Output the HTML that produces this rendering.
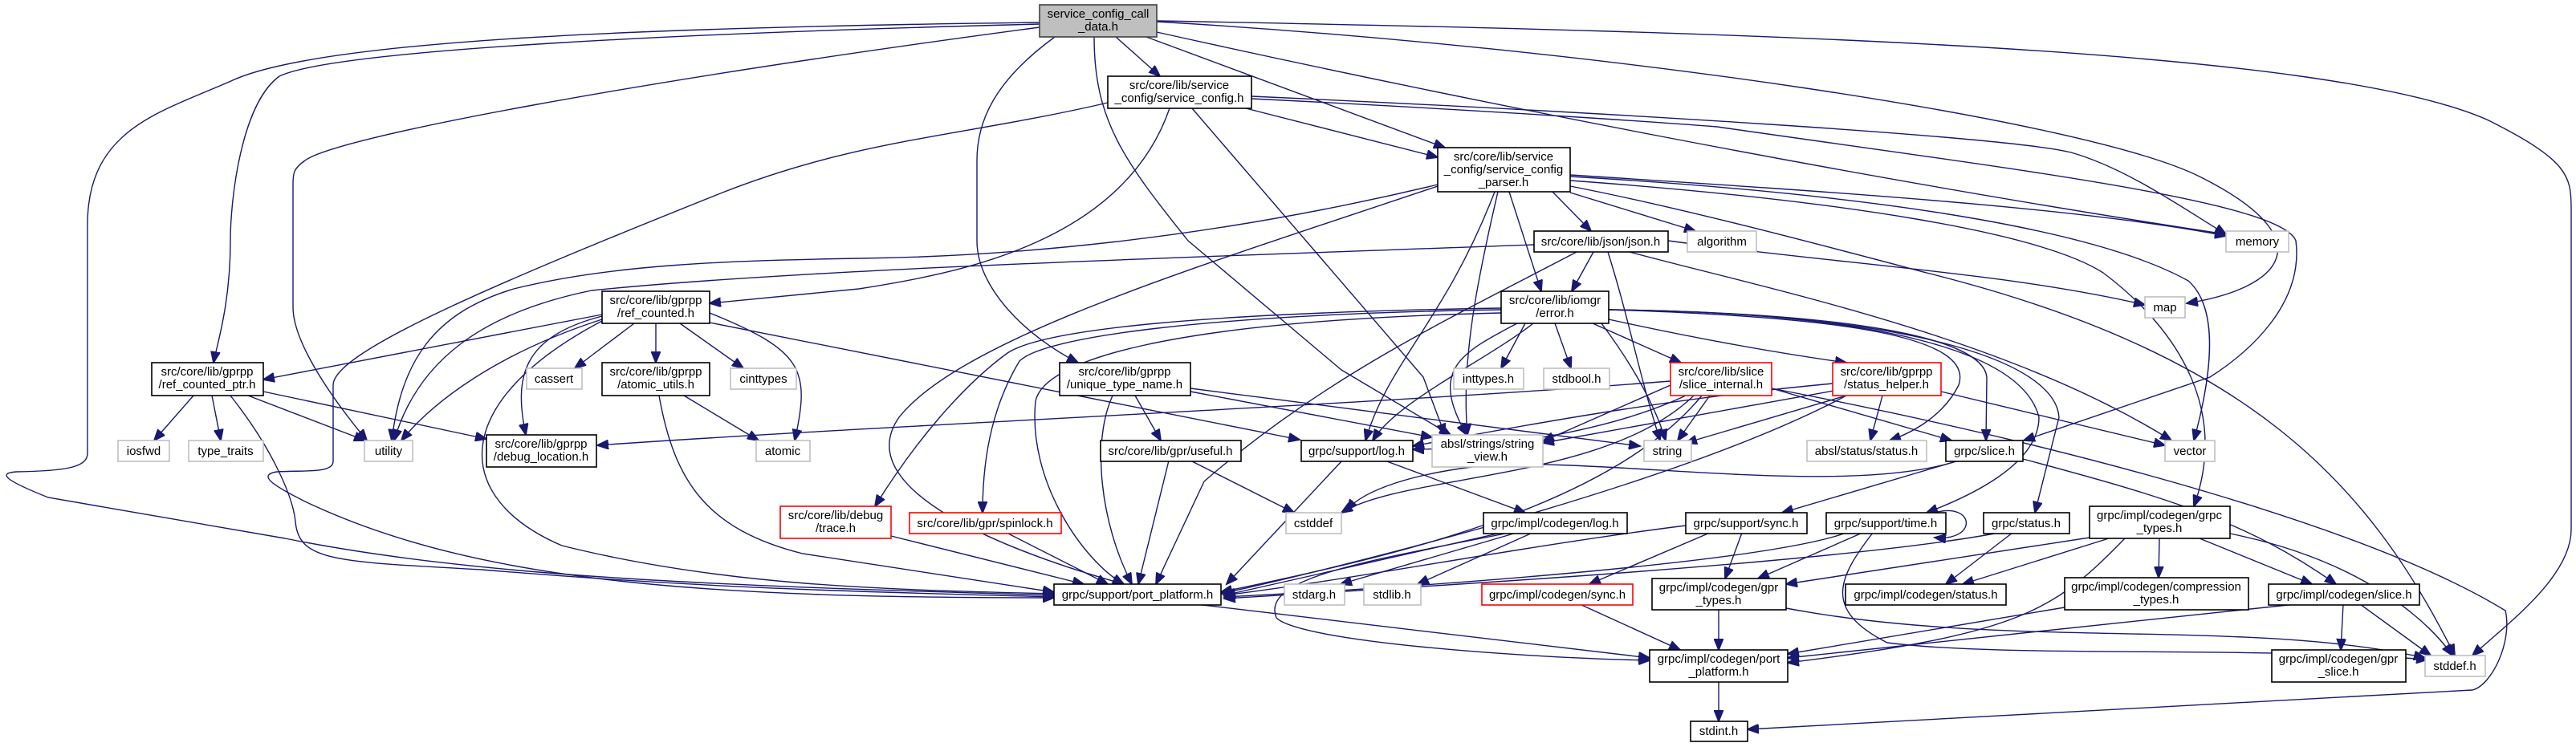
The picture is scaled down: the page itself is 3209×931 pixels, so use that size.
<!DOCTYPE html>
<html><head><meta charset="utf-8"><style>
html,body{margin:0;padding:0;background:#fff;}
svg{display:block;}
text{font-family:"Liberation Sans",sans-serif;font-size:15px;fill:#000;text-anchor:middle;}
.e{fill:none;stroke:#191970;stroke-width:1.4;marker-end:url(#a);}
.n{fill:#fff;stroke:#000;stroke-width:1.6;}
.g{fill:#fff;stroke:#bfbfbf;stroke-width:1.6;}
.r{fill:#fff;stroke:#ff0000;stroke-width:1.6;}
</style></head><body>
<svg width="3209" height="931" viewBox="0 0 3209 931" xmlns="http://www.w3.org/2000/svg">
<defs><marker id="a" markerUnits="userSpaceOnUse" markerWidth="16" markerHeight="12" refX="14" refY="6" orient="auto"><path d="M0,0 L15,6 L0,12 z" fill="#191970" stroke="#191970"/></marker></defs>
<g>
<!-- root edges -->
<path class="e" d="M1390,46 L1445,95"/>
<path class="e" d="M1428,46 L1800,184"/>
<path class="e" d="M1295,30 C900,40 420,60 348,95 C300,130 287,250 287,300 C287,380 270,430 266,452"/>
<path class="e" d="M1295,28 C800,34 400,50 290,100 C200,140 109,160 109,280 L109,565 C109,583 80,587 20,588 C-5,590 10,600 60,620 L355,671 C600,720 900,730 1313,742"/>
<path class="e" d="M1295,34 C800,100 420,170 380,200 C366,210 365,215 365,230 L365,383 C365,420 400,480 457,549"/>
<path class="e" d="M1314,46 C1240,100 1217,150 1217,200 L1217,300 C1217,360 1280,420 1343,452"/>
<path class="e" d="M1363,46 C1363,150 1400,200 1480,300 L1671,461 L1807,542"/>
<path class="e" d="M1441,40 C1800,120 2300,220 2773,292"/>
<path class="e" d="M1441,27 C2000,60 2600,150 2740,220 C2900,300 2840,360 2724,378"/>
<path class="e" d="M1441,26 C2200,40 2900,60 3100,150 C3200,200 3203,220 3203,260 L3203,660 C3203,720 3120,780 3080,817"/>
<!-- service_config.h -->
<path class="e" d="M1552,135 L1791,196"/>
<path class="e" d="M1457,135 C1400,300 1200,340 1070,360 L884,378"/>
<path class="e" d="M1380,128 C1200,170 1070,173 900,240 C600,360 415,440 415,480 L415,575 C415,590 380,586 345,588 C320,592 340,605 380,625 C600,730 900,745 1313,745"/>
<path class="e" d="M1485,135 L1773,470 L1800,542"/>
<path class="e" d="M1559,120 C2000,140 2500,170 2580,190 C2650,210 2720,260 2773,292"/>
<path class="e" d="M1559,123 C1900,140 2100,155 2139,158 C2500,210 2840,250 2860,300 C2870,380 2800,440 2753,470 L2521,549"/>
<!-- parser -->
<path class="e" d="M1934,239 L1982,288"/>
<path class="e" d="M1880,239 L1920,363"/>
<path class="e" d="M1956,240 L2112,288"/>
<path class="e" d="M1956,218 C2300,240 2600,260 2773,294"/>
<path class="e" d="M1956,220 C2300,240 2600,280 2726,350 C2760,380 2760,450 2733,549"/>
<path class="e" d="M1956,225 C2300,250 2542,290 2620,340 C2700,400 2780,500 2733,631"/>
<path class="e" d="M1956,232 C2100,260 2275,307 2400,340 C2800,440 2950,600 3058,817"/>
<path class="e" d="M1791,230 C1500,300 1247,320 1070,322 C900,325 760,330 640,360 C540,390 500,450 488,549"/>
<path class="e" d="M1791,232 C1500,330 1200,420 1120,520 C1050,620 1300,700 1400,728"/>
<path class="e" d="M1862,239 C1800,400 1730,450 1701,549"/>
<path class="e" d="M1866,239 C1840,350 1820,450 1828,542"/>
<!-- json -->
<path class="e" d="M1985,314 L1958,363"/>
<path class="e" d="M2078,300 C2300,330 2500,340 2672,380"/>
<path class="e" d="M2030,314 C2200,360 2500,420 2705,549"/>
<path class="e" d="M2003,314 C2030,400 2040,460 2068,549"/>
<path class="e" d="M1911,305 C1500,320 1000,335 737,362 C600,390 520,450 491,549"/>
<path class="e" d="M1964,314 C1800,400 1650,470 1500,600 L1440,728"/>
<!-- error -->
<path class="e" d="M1900,403 L1870,459"/>
<path class="e" d="M1937,403 L1957,459"/>
<path class="e" d="M1984,403 L2094,452"/>
<path class="e" d="M2004,398 C2150,430 2250,445 2300,452"/>
<path class="e" d="M2004,386 C2300,395 2460,420 2440,480 C2420,520 2380,540 2354,549"/>
<path class="e" d="M2004,386 C2300,390 2470,420 2475,470 L2474,549"/>
<path class="e" d="M2004,386 C2350,390 2520,440 2540,520 C2540,580 2450,620 2400,639"/>
<path class="e" d="M2004,386 C2380,390 2560,450 2565,520 L2535,639"/>
<path class="e" d="M1870,384 C1500,390 1300,410 1255,440 C1200,480 1140,550 1090,631"/>
<path class="e" d="M1870,386 C1500,392 1300,420 1270,450 C1240,500 1224,560 1224,639"/>
<path class="e" d="M1870,390 C1450,400 1300,450 1290,500 C1280,600 1350,700 1400,728"/>
<path class="e" d="M1910,403 C1850,450 1740,500 1710,549"/>
<path class="e" d="M1890,403 C1820,440 1780,460 1827,542"/>
<path class="e" d="M1995,403 C2030,450 2060,500 2075,549"/>
<!-- ref_counted -->
<path class="e" d="M750,392 L328,473"/>
<path class="e" d="M790,403 L716,459"/>
<path class="e" d="M817,403 L817,452"/>
<path class="e" d="M847,403 L926,459"/>
<path class="e" d="M884,390 C1000,437 1010,460 990,549"/>
<path class="e" d="M750,394 C650,420 640,470 655,542"/>
<path class="e" d="M750,398 C620,440 540,500 500,549"/>
<path class="e" d="M750,400 C560,500 560,620 700,680 C900,730 1100,735 1313,740"/>
<path class="e" d="M884,402 L1619,548"/>
<!-- ref_counted_ptr -->
<path class="e" d="M241,493 L192,549"/>
<path class="e" d="M264,493 L275,549"/>
<path class="e" d="M309,493 L455,549"/>
<path class="e" d="M328,488 L606,547"/>
<path class="e" d="M287,493 C340,560 365,620 368,650 C372,700 420,700 600,710 C900,735 1100,738 1313,744"/>
<!-- atomic_utils -->
<path class="e" d="M852,493 L945,549"/>
<path class="e" d="M821,493 C840,600 880,660 1000,690 L1313,738"/>
<!-- long horizontal to debug_location -->
<path class="e" d="M2081,475 C1700,505 1100,530 744,555"/>
<!-- unique_type_name -->
<path class="e" d="M1414,493 L1446,549"/>
<path class="e" d="M1386,493 C1360,550 1370,650 1410,728"/>
<path class="e" d="M1483,488 L1784,545"/>
<path class="e" d="M1483,484 L2043,556"/>
<!-- slice_internal -->
<path class="e" d="M2207,484 L2431,549"/>
<path class="e" d="M2130,493 L2090,549"/>
<path class="e" d="M2081,480 L1922,550"/>
<path class="e" d="M2100,493 C2000,540 1850,560 1760,560"/>
<path class="e" d="M2110,493 C2000,600 1750,590 1671,639"/>
<path class="e" d="M2120,493 C2000,640 1700,700 1521,738"/>
<path class="e" d="M2207,484 C2600,560 2958,661 3121,761 C3130,800 3104,854 3080,860 L2177,909"/>
<!-- status_helper -->
<path class="e" d="M2345,493 L2330,549"/>
<path class="e" d="M2418,488 L2697,555"/>
<path class="e" d="M2300,493 L2100,552"/>
<path class="e" d="M2290,486 L1922,552"/>
<path class="e" d="M2283,478 C2100,495 1950,520 1760,556"/>
<path class="e" d="M2300,493 C2100,600 1700,700 1521,740"/>
<!-- row 549 -->
<path class="e" d="M1456,574 L1418,728"/>
<path class="e" d="M1483,574 L1612,639"/>
<path class="e" d="M1672,574 L1528,728"/>
<path class="e" d="M1725,574 L1900,639"/>
<path class="e" d="M2520,572 C2700,620 2800,650 2910,728"/>
<path class="e" d="M2440,574 L2220,639"/>
<path class="e" d="M2440,574 C2300,620 2000,570 1850,580 C1760,590 1700,610 1677,636"/>
<!-- row 639 -->
<path class="e" d="M1110,668 L1350,728"/>
<path class="e" d="M1254,664 L1380,728"/>
<path class="e" d="M1870,664 L1525,742"/>
<path class="e" d="M1889,664 L1670,728"/>
<path class="e" d="M1909,664 L1766,728"/>
<path class="e" d="M1880,664 C1700,700 1570,720 1590,770 C1620,800 1900,820 2055,823"/>
<path class="e" d="M2130,664 L1980,728"/>
<path class="e" d="M2170,664 L2149,721"/>
<path class="e" d="M2100,655 C1900,680 1700,720 1525,742"/>
<path class="e" d="M2320,664 L2190,721"/>
<path class="e" d="M2300,664 C2200,700 1800,730 1525,744"/>
<path class="e" d="M2333,664 C2290,720 2270,760 2351,801 C2500,820 2800,805 3024,822"/>
<path class="e" d="M2410,639 C2460,625 2465,675 2410,670"/>
<path class="e" d="M2507,664 L2424,728"/>
<path class="e" d="M2490,664 C2300,700 1800,730 1525,746"/>
<path class="e" d="M2603,670 L2225,728"/>
<path class="e" d="M2627,671 L2445,728"/>
<path class="e" d="M2690,671 L2689,720"/>
<path class="e" d="M2740,671 L2880,728"/>
<path class="e" d="M2778,665 C2950,700 3030,780 3055,817"/>
<path class="e" d="M2647,671 C2560,760 2520,790 2227,826"/>
<!-- row 728 -->
<path class="e" d="M1490,753 L2055,820"/>
<path class="e" d="M1968,753 L2093,810"/>
<path class="e" d="M2572,757 L2227,815"/>
<path class="e" d="M2860,753 L2227,820"/>
<path class="e" d="M2919,753 L2916,810"/>
<path class="e" d="M2940,753 L3028,817"/>
<path class="e" d="M2141,760 L2141,810"/>
<path class="e" d="M2225,758 C2500,810 2800,770 3021,820"/>
<path class="e" d="M2141,850 L2141,899"/>
</g>
<g>
<rect x="1295" y="6" width="146" height="40" fill="#bfbfbf" stroke="#404040" stroke-width="1.6"/><text x="1368" y="22">service_config_call</text><text x="1368" y="38">_data.h</text>
<rect class="n" x="1380" y="95" width="179" height="40"/><text x="1469" y="111">src/core/lib/service</text><text x="1469" y="127">_config/service_config.h</text>
<rect class="n" x="1791" y="184" width="165" height="55"/><text x="1873" y="200">src/core/lib/service</text><text x="1873" y="216">_config/service_config</text><text x="1873" y="232">_parser.h</text>
<rect class="n" x="1911" y="288" width="167" height="26"/><text x="1994" y="306">src/core/lib/json/json.h</text>
<rect class="g" x="2102" y="288" width="86" height="26"/><text x="2145" y="306">algorithm</text>
<rect class="g" x="2773" y="288" width="78" height="26"/><text x="2812" y="306">memory</text>
<rect class="g" x="2672" y="370" width="50" height="26"/><text x="2697" y="388">map</text>
<rect class="n" x="1870" y="363" width="134" height="40"/><text x="1937" y="379">src/core/lib/iomgr</text><text x="1937" y="395">/error.h</text>
<rect class="n" x="750" y="363" width="134" height="40"/><text x="817" y="379">src/core/lib/gprpp</text><text x="817" y="395">/ref_counted.h</text>
<rect class="n" x="189" y="452" width="139" height="41"/><text x="258" y="468">src/core/lib/gprpp</text><text x="258" y="484">/ref_counted_ptr.h</text>
<rect class="g" x="656" y="459" width="69" height="26"/><text x="690" y="477">cassert</text>
<rect class="n" x="750" y="452" width="134" height="41"/><text x="817" y="468">src/core/lib/gprpp</text><text x="817" y="484">/atomic_utils.h</text>
<rect class="g" x="910" y="459" width="82" height="26"/><text x="951" y="477">cinttypes</text>
<rect class="n" x="1320" y="452" width="163" height="41"/><text x="1401" y="468">src/core/lib/gprpp</text><text x="1401" y="484">/unique_type_name.h</text>
<rect class="g" x="1811" y="459" width="87" height="26"/><text x="1854" y="477">inttypes.h</text>
<rect class="g" x="1923" y="459" width="82" height="26"/><text x="1964" y="477">stdbool.h</text>
<rect class="r" x="2081" y="452" width="126" height="41"/><text x="2144" y="468">src/core/lib/slice</text><text x="2144" y="484">/slice_internal.h</text>
<rect class="r" x="2283" y="452" width="135" height="41"/><text x="2350" y="468">src/core/lib/gprpp</text><text x="2350" y="484">/status_helper.h</text>
<rect class="g" x="147" y="549" width="64" height="26"/><text x="179" y="567">iosfwd</text>
<rect class="g" x="235" y="549" width="93" height="26"/><text x="281" y="567">type_traits</text>
<rect class="g" x="454" y="549" width="60" height="26"/><text x="484" y="567">utility</text>
<rect class="n" x="606" y="542" width="137" height="40"/><text x="674" y="558">src/core/lib/gprpp</text><text x="674" y="574">/debug_location.h</text>
<rect class="g" x="942" y="549" width="67" height="26"/><text x="975" y="567">atomic</text>
<rect class="n" x="1371" y="549" width="175" height="26"/><text x="1458" y="567">src/core/lib/gpr/useful.h</text>
<rect class="n" x="1621" y="549" width="139" height="26"/><text x="1690" y="567">grpc/support/log.h</text>
<rect class="g" x="1784" y="542" width="138" height="40"/><text x="1853" y="558">absl/strings/string</text><text x="1853" y="574">_view.h</text>
<rect class="g" x="2048" y="549" width="59" height="26"/><text x="2077" y="567">string</text>
<rect class="g" x="2251" y="549" width="149" height="26"/><text x="2325" y="567">absl/status/status.h</text>
<rect class="n" x="2424" y="549" width="96" height="26"/><text x="2472" y="567">grpc/slice.h</text>
<rect class="g" x="2697" y="549" width="62" height="26"/><text x="2728" y="567">vector</text>
<rect class="r" x="972" y="631" width="138" height="40"/><text x="1041" y="647">src/core/lib/debug</text><text x="1041" y="663">/trace.h</text>
<rect class="r" x="1133" y="639" width="189" height="26"/><text x="1227" y="657">src/core/lib/gpr/spinlock.h</text>
<rect class="g" x="1602" y="639" width="69" height="26"/><text x="1636" y="657">cstddef</text>
<rect class="n" x="1848" y="639" width="179" height="26"/><text x="1937" y="657">grpc/impl/codegen/log.h</text>
<rect class="n" x="2100" y="639" width="151" height="26"/><text x="2175" y="657">grpc/support/sync.h</text>
<rect class="n" x="2275" y="639" width="149" height="26"/><text x="2349" y="657">grpc/support/time.h</text>
<rect class="n" x="2471" y="639" width="107" height="26"/><text x="2524" y="657">grpc/status.h</text>
<rect class="n" x="2603" y="631" width="175" height="40"/><text x="2690" y="647">grpc/impl/codegen/grpc</text><text x="2690" y="663">_types.h</text>
<rect class="n" x="1313" y="728" width="208" height="26"/><text x="1417" y="746">grpc/support/port_platform.h</text>
<rect class="g" x="1600" y="728" width="75" height="26"/><text x="1637" y="746">stdarg.h</text>
<rect class="g" x="1699" y="728" width="71" height="26"/><text x="1734" y="746">stdlib.h</text>
<rect class="r" x="1846" y="728" width="188" height="26"/><text x="1940" y="746">grpc/impl/codegen/sync.h</text>
<rect class="n" x="2058" y="721" width="167" height="39"/><text x="2141" y="737">grpc/impl/codegen/gpr</text><text x="2141" y="753">_types.h</text>
<rect class="n" x="2299" y="728" width="200" height="26"/><text x="2399" y="746">grpc/impl/codegen/status.h</text>
<rect class="n" x="2572" y="720" width="229" height="40"/><text x="2686" y="736">grpc/impl/codegen/compression</text><text x="2686" y="752">_types.h</text>
<rect class="n" x="2826" y="728" width="188" height="26"/><text x="2920" y="746">grpc/impl/codegen/slice.h</text>
<rect class="n" x="2055" y="810" width="172" height="40"/><text x="2141" y="826">grpc/impl/codegen/port</text><text x="2141" y="842">_platform.h</text>
<rect class="n" x="2830" y="810" width="167" height="40"/><text x="2913" y="826">grpc/impl/codegen/gpr</text><text x="2913" y="842">_slice.h</text>
<rect class="g" x="3021" y="817" width="75" height="26"/><text x="3058" y="835">stddef.h</text>
<rect class="n" x="2106" y="899" width="71" height="25"/><text x="2141" y="916">stdint.h</text>
</g>
</svg>
</body></html>
